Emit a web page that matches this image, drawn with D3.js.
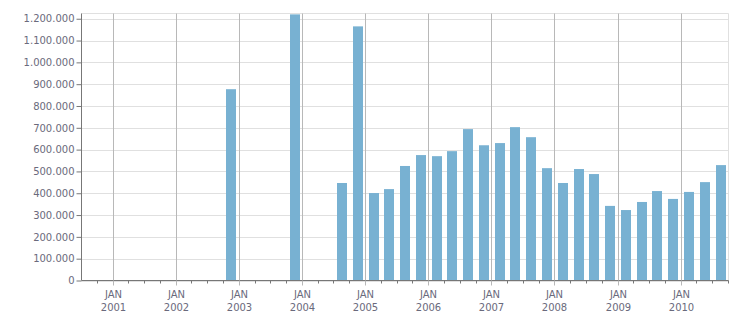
<!DOCTYPE html>
<html>
<head>
<meta charset="utf-8">
<script src="https://cdn.jsdelivr.net/npm/d3@7"></script>
<style>
  body { margin: 0; background: #fff; }
  text { font-family: "DejaVu Sans", Verdana, sans-serif; font-size: 10px; fill: #6a6a7c; }
</style>
</head>
<body>
<div id="chart"></div>
<script>
// quarterly totals, one per quarter start
const quarters = [
  "2000-07", "2000-10",
  "2001-01", "2001-04", "2001-07", "2001-10",
  "2002-01", "2002-04", "2002-07", "2002-10",
  "2003-01", "2003-04", "2003-07", "2003-10",
  "2004-01", "2004-04", "2004-07", "2004-10",
  "2005-01", "2005-04", "2005-07", "2005-10",
  "2006-01", "2006-04", "2006-07", "2006-10",
  "2007-01", "2007-04", "2007-07", "2007-10",
  "2008-01", "2008-04", "2008-07", "2008-10",
  "2009-01", "2009-04", "2009-07", "2009-10",
  "2010-01", "2010-04", "2010-07"
];
const values = [
  0, 0,
  0, 0, 0, 0,
  0, 0, 0, 877000,
  0, 0, 0, 1220000,
  0, 0, 447000, 1165000,
  401000, 419000, 525000, 575000,
  570000, 593000, 694000, 620000,
  630000, 703000, 657000, 515000,
  447000, 511000, 488000, 342000,
  323000, 360000, 410000, 374000,
  406000, 451000, 529000
];
const yTicks = [0, 100000, 200000, 300000, 400000, 500000, 600000, 700000, 800000, 900000, 1000000, 1100000, 1200000];
const yMax = 1224000;

const W = 751, H = 313;
const m = { left: 81.5, right: 728.5, top: 13.5, bottom: 280.5 };

const parse = d3.timeParse("%Y-%m");
const data = quarters.map((q, i) => ({ start: parse(q), value: values[i] }));

const svg = d3.select("#chart").append("svg")
    .attr("width", W)
    .attr("height", H);

const x = d3.scaleTime()
    .domain([parse("2000-07"), parse("2010-10")])
    .range([81.5, 728.5]);
const y = d3.scaleLinear().domain([0, yMax]).range([m.bottom, m.top]);
const px = d => Math.floor(x(d)) + 0.5;

const fmt = d3.formatLocale({ decimal: ",", thousands: ".", grouping: [3], currency: ["", ""] }).format(",d");

// horizontal grid
svg.append("g").selectAll("line")
    .data(yTicks)
    .join("line")
    .attr("x1", m.left).attr("x2", m.right)
    .attr("y1", d => Math.round(y(d)) + 0.5).attr("y2", d => Math.round(y(d)) + 0.5)
    .attr("stroke", "#e0e0e0");

// plot frame top / right
svg.append("path")
    .attr("d", `M${m.left},${m.top}H${m.right}V${m.bottom}`)
    .attr("fill", "none")
    .attr("stroke", "#e0e0e0");

// vertical grid at January
const years = d3.timeYear.range(parse("2001-01"), parse("2010-10"));
svg.append("g").selectAll("line")
    .data(years)
    .join("line")
    .attr("x1", px).attr("x2", px)
    .attr("y1", m.top).attr("y2", m.bottom)
    .attr("stroke", "#b8b8b8");

// bars
svg.append("g").selectAll("rect")
    .data(data.filter(d => d.value > 0))
    .join("rect")
    .attr("x", d => {
        const mid = (x(d.start) + x(d3.timeMonth.offset(d.start, 3))) / 2;
        return Math.round(mid - 5);
    })
    .attr("width", 10)
    .attr("y", d => y(d.value))
    .attr("height", d => y(0) - y(d.value))
    .attr("fill", "#78b1d2");

// y axis
const yAxis = svg.append("g")
    .attr("transform", `translate(${m.left},0)`)
    .call(d3.axisLeft(y).tickValues(yTicks).tickFormat(fmt).tickSize(5).tickPadding(2));
yAxis.select(".domain").attr("stroke", "#777").attr("d", `M0,${m.top}V${m.bottom}`);
yAxis.selectAll(".tick line").attr("stroke", "#777");
yAxis.selectAll("text").attr("fill", null).attr("font-family", null).attr("font-size", null);

// x axis: quarterly minor ticks, major at January
const xAxis = svg.append("g").attr("transform", `translate(0,${m.bottom})`);
xAxis.append("line")
    .attr("x1", m.left).attr("x2", m.right)
    .attr("stroke", "#777");
const qTicks = d3.timeMonth.every(3).range(parse("2000-10"), parse("2010-10")).concat([parse("2010-10")]);
xAxis.selectAll(".minor")
    .data(qTicks)
    .join("line")
    .attr("class", "minor")
    .attr("x1", px).attr("x2", px)
    .attr("y1", 0)
    .attr("y2", d => d.getMonth() === 0 ? 5 : 3)
    .attr("stroke", d => d.getMonth() === 0 ? "#b8b8b8" : "#777");

const lbl = xAxis.selectAll(".lbl")
    .data(years)
    .join("text")
    .attr("class", "lbl")
    .attr("text-anchor", "middle")
    .attr("x", px);
lbl.append("tspan").attr("y", 17).text("JAN");
lbl.append("tspan").attr("x", px).attr("y", 30).text(d => d.getFullYear());
</script>
</body>
</html>
